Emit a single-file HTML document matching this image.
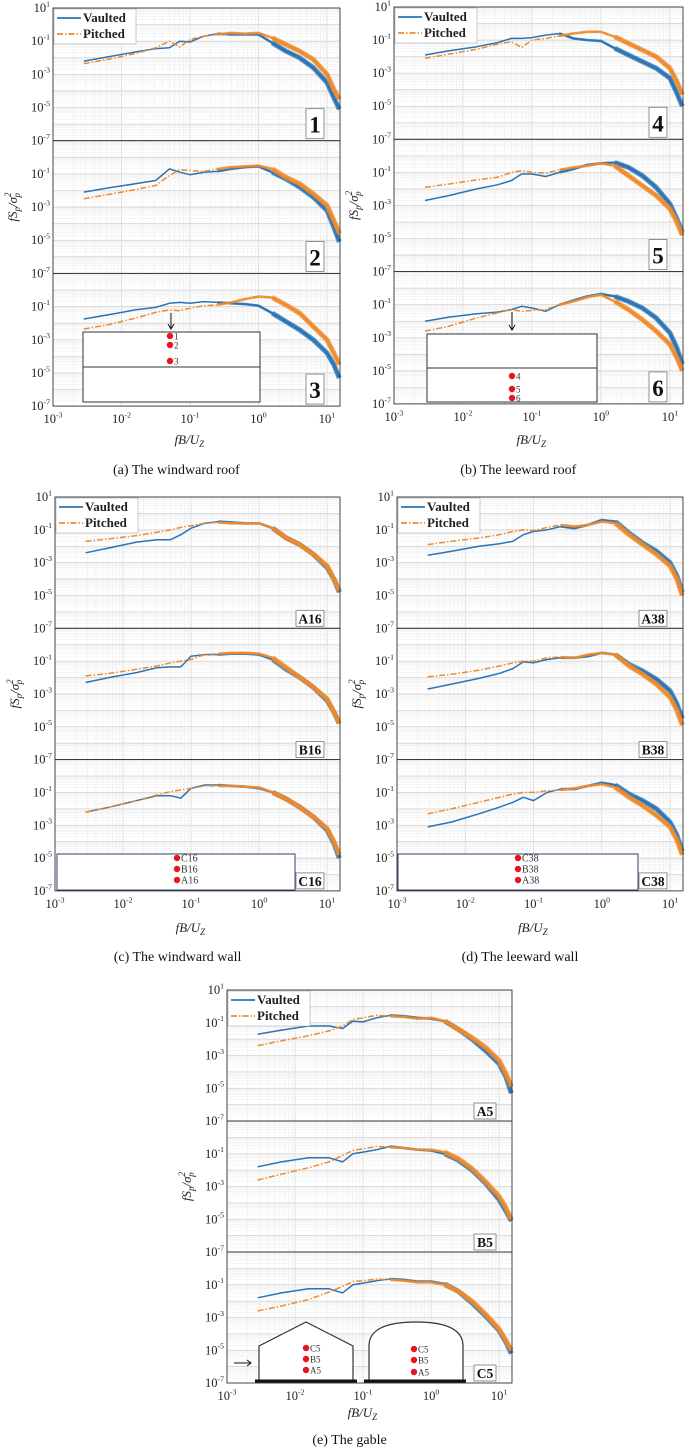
<!DOCTYPE html>
<html><head><meta charset="utf-8">
<style>
html,body{margin:0;padding:0;background:#fff;}
svg{display:block;font-family:"Liberation Serif",serif;}
</style></head>
<body>
<svg id="fig" width="685" height="1448" viewBox="0 0 685 1448" xmlns="http://www.w3.org/2000/svg"></svg>
<script>
// ---- data (log10 of fSp/σp², sampled at log10(fB/Uz) grid) ----
const fGrid = [-2.55,-2.2,-1.8,-1.5,-1.3,-1.15,-1.0,-0.8,-0.6,-0.4,-0.2,0,0.2,0.4,0.6,0.8,1.0,1.1,1.18];
const yTickExps = [-7,-5,-3,-1,1];
const xTickExps = [-3,-2,-1,0,1];
const v1=[-2.2,-1.95,-1.65,-1.45,-1.4,-1.0,-1.05,-0.7,-0.55,-0.6,-0.6,-0.6,-1.1,-1.6,-2.0,-2.6,-3.5,-4.4,-5.1];
const p1=[-2.35,-2.1,-1.75,-1.4,-1.0,-1.35,-0.9,-0.7,-0.6,-0.5,-0.55,-0.5,-0.8,-1.2,-1.6,-2.1,-3.0,-3.9,-4.5];
const v2=[-2.1,-1.85,-1.6,-1.4,-0.7,-0.9,-1.05,-0.9,-0.85,-0.7,-0.6,-0.55,-0.9,-1.3,-1.8,-2.4,-3.2,-4.2,-5.1];
const p2=[-2.5,-2.25,-1.95,-1.7,-1.1,-0.75,-0.8,-0.85,-0.7,-0.6,-0.55,-0.5,-0.7,-1.2,-1.6,-2.2,-2.9,-3.8,-4.6];
const v3=[-1.75,-1.5,-1.2,-1.05,-0.8,-0.75,-0.8,-0.7,-0.75,-0.8,-0.85,-0.95,-1.4,-1.9,-2.4,-3.0,-3.8,-4.5,-5.3];
const p3=[-2.35,-2.1,-1.7,-1.35,-1.2,-1.25,-1.1,-0.95,-0.9,-0.75,-0.55,-0.4,-0.45,-0.9,-1.4,-2.2,-3.0,-3.8,-4.5];
const v4=[-1.9,-1.65,-1.4,-1.15,-0.9,-0.9,-0.85,-0.7,-0.6,-0.9,-1.0,-1.05,-1.5,-1.9,-2.3,-2.7,-3.3,-4.2,-5.0];
const p4=[-2.1,-1.85,-1.55,-1.25,-1.1,-1.45,-1.0,-0.9,-0.75,-0.6,-0.5,-0.5,-0.8,-1.2,-1.6,-2.0,-2.7,-3.5,-4.3];
const v5=[-2.7,-2.4,-2.0,-1.75,-1.5,-1.1,-1.1,-1.25,-1.0,-0.8,-0.55,-0.45,-0.4,-0.7,-1.2,-1.9,-2.9,-3.8,-4.6];
const p5=[-1.9,-1.7,-1.45,-1.3,-1.0,-0.9,-1.0,-1.05,-0.85,-0.7,-0.6,-0.45,-0.6,-1.2,-1.8,-2.4,-3.2,-4.0,-4.8];
const v6=[-2.0,-1.75,-1.55,-1.45,-1.3,-1.1,-1.2,-1.4,-1.0,-0.75,-0.5,-0.35,-0.5,-0.8,-1.2,-1.8,-2.7,-3.6,-4.6];
const p6=[-2.6,-2.3,-1.8,-1.5,-1.3,-1.4,-1.35,-1.3,-1.0,-0.8,-0.55,-0.4,-0.8,-1.3,-1.9,-2.6,-3.4,-4.2,-5.0];
const vA16=[-2.4,-2.1,-1.75,-1.6,-1.6,-1.3,-0.9,-0.6,-0.5,-0.55,-0.6,-0.6,-0.9,-1.5,-1.9,-2.5,-3.3,-4.0,-4.8];
const pA16=[-1.7,-1.55,-1.35,-1.15,-1.0,-0.85,-0.75,-0.6,-0.55,-0.6,-0.6,-0.6,-0.9,-1.5,-1.9,-2.5,-3.2,-4.0,-4.7];
const vB16=[-2.3,-2.0,-1.7,-1.4,-1.35,-1.35,-0.7,-0.6,-0.6,-0.55,-0.55,-0.6,-0.9,-1.5,-2.0,-2.6,-3.4,-4.1,-4.8];
const pB16=[-1.9,-1.75,-1.5,-1.3,-1.1,-1.0,-0.9,-0.6,-0.55,-0.5,-0.5,-0.55,-0.8,-1.4,-2.0,-2.6,-3.3,-4.1,-4.8];
const vC16=[-2.2,-1.9,-1.5,-1.2,-1.2,-1.35,-0.75,-0.55,-0.55,-0.6,-0.65,-0.75,-1.0,-1.4,-1.9,-2.5,-3.3,-4.1,-5.0];
const pC16=[-2.2,-1.9,-1.5,-1.15,-0.95,-0.85,-0.75,-0.6,-0.6,-0.6,-0.65,-0.7,-1.0,-1.4,-1.9,-2.5,-3.2,-4.0,-4.8];
const vA38=[-2.55,-2.3,-2.0,-1.85,-1.7,-1.3,-1.1,-1.0,-0.8,-0.9,-0.7,-0.4,-0.5,-1.2,-1.8,-2.3,-3.0,-3.8,-4.8];
const pA38=[-1.9,-1.7,-1.5,-1.3,-1.1,-1.0,-1.05,-0.85,-0.7,-0.8,-0.7,-0.5,-0.6,-1.3,-1.9,-2.5,-3.2,-4.0,-5.0];
const vB38=[-2.7,-2.4,-2.05,-1.75,-1.45,-1.05,-1.1,-0.9,-0.8,-0.8,-0.7,-0.5,-0.6,-1.2,-1.6,-2.1,-2.8,-3.6,-4.5];
const pB38=[-1.95,-1.8,-1.55,-1.3,-1.1,-1.0,-1.0,-0.8,-0.75,-0.8,-0.6,-0.5,-0.6,-1.3,-1.8,-2.4,-3.2,-4.0,-4.9];
const vC38=[-3.1,-2.8,-2.3,-1.9,-1.6,-1.3,-1.5,-1.0,-0.8,-0.8,-0.6,-0.4,-0.55,-1.1,-1.5,-2.0,-2.8,-3.6,-4.6];
const pC38=[-2.3,-2.0,-1.6,-1.3,-1.1,-1.0,-1.0,-0.9,-0.85,-0.75,-0.6,-0.5,-0.7,-1.3,-1.8,-2.4,-3.1,-3.9,-4.8];
const vA5=[-1.7,-1.45,-1.2,-1.2,-1.35,-0.9,-0.95,-0.7,-0.55,-0.6,-0.7,-0.75,-0.9,-1.4,-2.0,-2.7,-3.5,-4.3,-5.3];
const pA5=[-2.4,-2.1,-1.8,-1.5,-1.2,-0.8,-0.7,-0.55,-0.6,-0.65,-0.75,-0.7,-0.9,-1.4,-1.9,-2.5,-3.3,-4.1,-4.9];
const vB5=[-1.8,-1.5,-1.25,-1.25,-1.5,-1.0,-0.9,-0.75,-0.55,-0.65,-0.75,-0.8,-1.0,-1.4,-2.0,-2.8,-3.8,-4.5,-5.1];
const pB5=[-2.6,-2.25,-1.85,-1.5,-1.1,-0.8,-0.7,-0.55,-0.6,-0.65,-0.75,-0.75,-0.9,-1.3,-1.9,-2.7,-3.6,-4.3,-5.0];
const vC5=[-1.8,-1.5,-1.25,-1.25,-1.5,-1.0,-0.9,-0.75,-0.65,-0.7,-0.8,-0.8,-0.95,-1.4,-2.1,-2.9,-3.8,-4.5,-5.2];
const pC5=[-2.6,-2.3,-1.9,-1.45,-1.1,-0.8,-0.75,-0.65,-0.7,-0.75,-0.85,-0.85,-1.0,-1.4,-2.0,-2.8,-3.7,-4.4,-5.0];

const panels = [
 {id:'a',L:53,T:8,W:287,H:132.7,cap:'(a) The windward roof',capY:474,xlY:444,big:true,
  subs:[{n:'1',v:v1,p:p1},{n:'2',v:v2,p:p2},{n:'3',v:v3,p:p3}]},
 {id:'b',L:394,T:7,W:289,H:132.3,cap:'(b) The leeward roof',capY:474,xlY:444,big:true,
  subs:[{n:'4',v:v4,p:p4},{n:'5',v:v5,p:p5},{n:'6',v:v6,p:p6}]},
 {id:'c',L:55,T:497,W:285,H:131.3,cap:'(c) The windward wall',capY:961,xlY:932,big:false,
  subs:[{n:'A16',v:vA16,p:pA16},{n:'B16',v:vB16,p:pB16},{n:'C16',v:vC16,p:pC16}]},
 {id:'d',L:397,T:497,W:286,H:131.3,cap:'(d) The leeward wall',capY:961,xlY:932,big:false,
  subs:[{n:'A38',v:vA38,p:pA38},{n:'B38',v:vB38,p:pB38},{n:'C38',v:vC38,p:pC38}]},
 {id:'e',L:227,T:990,W:285,H:131,cap:'(e) The gable',capY:1444,xlY:1417,big:false,
  subs:[{n:'A5',v:vA5,p:pA5},{n:'B5',v:vB5,p:pB5},{n:'C5',v:vC5,p:pC5}]}
];

const NS='http://www.w3.org/2000/svg';
const svg=document.getElementById('fig');
function mk(tag,attrs,parent){const e=document.createElementNS(NS,tag);for(const k in attrs)e.setAttribute(k,attrs[k]);(parent||svg).appendChild(e);return e;}
function pow10(g,x,y,exp,anchor,size){
  const t=mk('text',{x:x,y:y,'text-anchor':anchor,'font-size':size,fill:'#222'},g);
  t.textContent='10';
  const s=mk('tspan',{'font-size':size*0.62,dy:-size*0.45},t);
  s.textContent=String(exp);
  return t;
}
const BLUE='#2a74b5', ORANGE='#ef8a2c';

panels.forEach(P=>{
  const g=mk('g',{});
  
  
  const dec=P.W/4.19;
  const X=lx=>P.L+(lx+3)*dec;
  const xmax=-3+P.W/dec;
  P.subs.forEach((S,i)=>{
    const top=P.T+i*P.H;
    const Y=ly=>top+(1-ly)/8*P.H;
    const sg=mk('g',{},g);
    
    
    for(let d=-3;d<=1;d++){for(let k=1;k<=9;k++){const lx=d+Math.log10(k);if(lx>xmax)continue;
      const ln=mk('line',{x1:X(lx),x2:X(lx),y1:top,y2:top+P.H,stroke:k===1?'#cfcfcf':'#ebebeb','stroke-width':k===1?0.7:0.5},sg);
      
      }}
    for(let d=-7;d<1;d++){for(let k=1;k<=9;k++){const ly=d+Math.log10(k);
      const ln=mk('line',{x1:P.L,x2:P.L+P.W,y1:Y(ly),y2:Y(ly),stroke:k===1?'#d4d4d4':'#ededed','stroke-width':k===1?0.8:0.5},sg);
      
      }}
    [['vaulted',S.v,BLUE,null],['pitched',S.p,ORANGE,'6,2,1.5,2']].forEach(([nm,arr,col,dash])=>{
      const pts=fGrid.map((f,j)=>X(f).toFixed(1)+','+Y(arr[j]).toFixed(1)).join(' ');
      const pl=mk('polyline',{points:pts,fill:'none',stroke:col,'stroke-width':1.5,'stroke-linejoin':'round'},sg);
      if(dash)pl.setAttribute('stroke-dasharray',dash);
      
      
      const hi=fGrid.map((f,j)=>[f,arr[j]]).filter(q=>q[0]>=-0.6);
      const pts2=hi.map(q=>X(q[0]).toFixed(1)+','+Y(q[1]).toFixed(1)).join(' ');
      const pb=mk('polyline',{points:pts2,fill:'none',stroke:col,'stroke-width':2.6,'stroke-linejoin':'round',opacity:0.85},sg);
      
      
      const hi2=fGrid.map((f,j)=>[f,arr[j]]).filter(q=>q[0]>=0.2);
      const pts3=hi2.map(q=>X(q[0]).toFixed(1)+','+Y(q[1]).toFixed(1)).join(' ');
      const pc=mk('polyline',{points:pts3,fill:'none',stroke:col,'stroke-width':5,'stroke-linejoin':'round',opacity:0.8},sg);
      
      
    });
    const bx=mk('rect',{x:P.L,y:top,width:P.W,height:P.H,fill:'none',stroke:'#333','stroke-width':0.9},sg);
    
    
    yTickExps.forEach(e=>{ if(e===1&&i>0)return;
      const t=pow10(sg,P.L-3,Y(e)+4,e,'end',12.5);
      
      });
    const big=P.big;
    const bw=big?18:(S.n.length>2?28:22), bh=big?30:16, fs=big?23:13.5;
    const bxL=P.L+P.W-bw-16, byT=top+P.H-bh-2;
    const lb=mk('rect',{x:bxL,y:byT,width:bw,height:bh,fill:'#fff',stroke:'#777','stroke-width':0.8},sg);
    
    
    const lt=mk('text',{x:bxL+bw/2,y:byT+bh-(big?6:3),'text-anchor':'middle','font-size':fs,'font-weight':'bold',fill:'#111'},sg);
    lt.textContent=S.n;
    
    
  });
  const lg=mk('g',{},g);
  
  
  mk('rect',{x:P.L+1,y:P.T+1,width:82,height:35,fill:'#fff',stroke:'#aaa','stroke-width':0.6},lg);
  const l1=mk('line',{x1:P.L+4,x2:P.L+28,y1:P.T+10,y2:P.T+10,stroke:BLUE,'stroke-width':1.8},lg);
  
  
  const t1=mk('text',{x:P.L+30,y:P.T+14,'font-size':13,'font-weight':'bold',fill:'#222'},lg);t1.textContent='Vaulted';
  
  
  const l2=mk('line',{x1:P.L+4,x2:P.L+28,y1:P.T+26,y2:P.T+26,stroke:ORANGE,'stroke-width':1.8,'stroke-dasharray':'6,2,1.5,2'},lg);
  
  
  const t2=mk('text',{x:P.L+30,y:P.T+30,'font-size':13,'font-weight':'bold',fill:'#222'},lg);t2.textContent='Pitched';
  
  
  const bottom=P.T+3*P.H;
  xTickExps.forEach(e=>{const t=pow10(g,X(e),bottom+17,e,'middle',12.5);
    
    });
  const xl=mk('text',{x:P.L+P.W*0.475,y:P.xlY,'text-anchor':'middle','font-size':13,'font-style':'italic',fill:'#222'},g);
  xl.innerHTML='fB/U<tspan font-size="9" dy="3">Z</tspan>';
  
  
  const cy=P.T+1.5*P.H, cx=P.L-36;
  const yl=mk('text',{x:cx,y:cy,'text-anchor':'middle','font-size':13,'font-style':'italic',fill:'#222',transform:'rotate(-90 '+cx+' '+cy+')'},g);
  yl.innerHTML='fS<tspan font-size="9" dy="3">p</tspan><tspan dy="-3">/σ</tspan><tspan font-size="9" dy="-6">2</tspan><tspan font-size="9" dx="-5" dy="9">p</tspan>';
  
  
  const cp=mk('text',{x:P.L+P.W*0.43,y:P.capY,'text-anchor':'middle','font-size':14,fill:'#111'},g);
  cp.textContent=P.cap;
  
  
});

function dot(x,y,label,anchorX,fs){
  const c=mk('circle',{cx:x,cy:y,r:3.2,fill:'#e8141c'});
  
  
  const t=mk('text',{x:x+4,y:y+3.5,'font-size':fs||9,fill:'#333'});
  t.textContent=label;
  
  
}
function box(x,y,w,h,stroke,name){const r=mk('rect',{x:x,y:y,width:w,height:h,fill:'#fff',stroke:stroke,'stroke-width':1});
  
  }
function arrow(x,y1,y2,name){const a=mk('line',{x1:x,x2:x,y1:y1,y2:y2,stroke:'#111','stroke-width':1});
  
  
  const h=mk('path',{d:`M${x-3},${y2-5} L${x},${y2} L${x+3},${y2-5}`,fill:'none',stroke:'#111','stroke-width':1});
  
  }
box(83,332,177,70,'#333','roof-plan-inset-a');
mk('line',{x1:83,x2:260,y1:367,y2:367,stroke:'#333','stroke-width':1});
arrow(171,313,329,'wind-arrow-a');
dot(170,336,'1');dot(170,345,'2');dot(170,361,'3');
box(427,334,170,68,'#333','roof-plan-inset-b');
mk('line',{x1:427,x2:597,y1:368,y2:368,stroke:'#333','stroke-width':1});
arrow(512,312,330,'wind-arrow-b');
dot(512,376,'4');dot(512,389,'5');dot(512,398,'6');
box(57,854,238,36,'#34466b','windward-wall-inset');
dot(177,858,'C16',0,10);dot(177,869,'B16',0,10);dot(177,880,'A16',0,10);
box(398,854,240,36,'#34466b','leeward-wall-inset');
dot(518,858,'C38',0,10);dot(518,869,'B38',0,10);dot(518,880,'A38',0,10);
const gp=mk('path',{d:'M259,1382 L259,1346 L306,1322 L353,1346 L353,1382',fill:'#fff',stroke:'#333','stroke-width':1.2});


const gv=mk('path',{d:'M369,1382 L369,1346 Q369,1322 416,1322 Q463,1322 463,1346 L463,1382',fill:'#fff',stroke:'#333','stroke-width':1.2});


const g1=mk('line',{x1:255,x2:357,y1:1381,y2:1381,stroke:'#111','stroke-width':3});


const g2=mk('line',{x1:364,x2:466,y1:1381,y2:1381,stroke:'#111','stroke-width':3});


const wa=mk('path',{d:'M234,1363 L251,1363 M247,1360 L251,1363 L247,1366',fill:'none',stroke:'#111','stroke-width':1});


dot(306,1348,'C5',0,9);dot(306,1359,'B5',0,9);dot(306,1370,'A5',0,9);
dot(414,1349,'C5',0,9);dot(414,1360,'B5',0,9);dot(414,1372,'A5',0,9);
</script>
</body></html>
